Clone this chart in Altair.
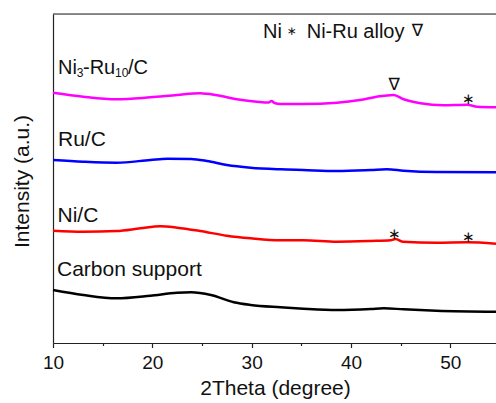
import altair as alt
import pandas as pd

# 2Theta positions and intensities (a.u.)
ni3ru10_x = [10, 13.05, 16.4, 19.8, 22.5, 24.8, 26.5, 28.5, 30.5, 31.7, 32.0, 32.3, 32.9, 35.2, 38.6, 40.9, 42.6, 44.3, 45.3, 47, 49.3, 51.7, 52.7, 54.6]
ni3ru10_y = [250.3, 246.3, 243.7, 245.7, 248, 249.7, 247.7, 243.7, 241.3, 240.4, 242.0, 240, 239, 239, 240.3, 243, 246.3, 248, 243.7, 239.7, 237.7, 238.2, 236.3, 235.7]

ruc_x = [10, 13.05, 16.4, 19.8, 21.5, 23.9, 25.5, 27.5, 29.9, 32.9, 35.2, 38.6, 42, 43.6, 45.3, 48.6, 54.6]
ruc_y = [183, 181.3, 180.3, 183, 184.3, 184, 182, 178, 175.3, 173.7, 173, 172, 173, 173.7, 172.3, 171, 170.7]

nic_x = [10, 13.05, 16.4, 18.8, 20.8, 22.5, 24.8, 27.5, 29.9, 32.9, 35.2, 38.6, 42, 44.0, 44.5, 45.2, 48.6, 51.7, 54.6]
nic_y = [112.3, 111.3, 112, 114.7, 116.7, 115.3, 112, 107.3, 104.7, 102.7, 102.7, 101.3, 102, 102.7, 104, 101.3, 100.3, 100.7, 99.3]

carbon_x = [10, 13.05, 16.4, 19.8, 22.5, 23.9, 25.9, 28.2, 29.9, 32.9, 35.2, 38.6, 42, 43.3, 45.3, 48.6, 54.6]
carbon_y = [53, 48, 44.7, 47.3, 50.3, 50.7, 48, 40.7, 38, 35.7, 34.3, 33, 34, 34.7, 33.7, 32.3, 31.3]

series_names = ["Ni3-Ru10/C", "Ru/C", "Ni/C", "Carbon support"]
series_colors = ["#FF00FF", "#0000FF", "#FF0000", "#000000"]

# Curve labels (text pieces for subscripts)
label_text = ["Ni", "3", "-Ru", "10", "/C", "Ru/C", "Ni/C", "Carbon support"]
label_x = [10.5, 12.38, 13.02, 16.24, 17.55, 10.5, 10.45, 10.4]
label_y = [269, 265.7, 269, 265.7, 269, 197.3, 121.3, 67]
label_size = [20, 12, 20, 12, 20, 21, 21, 21]

# Peak markers
mark_text = ["∇", "∗", "∗", "∗"]
mark_x = [44.35, 51.8, 44.35, 51.8]
mark_y = [258, 243.7, 108.7, 106.3]
mark_size = [17, 15, 15, 15]

# Legend pieces at top
legend_text = ["Ni", "∗", "Ni-Ru alloy", "∇"]
legend_x = [31.14, 34.01, 35.54, 46.68]
legend_y = [305.3, 312.0, 305.3, 312.2]
legend_size = [20, 12, 20, 17]
legend_align = ["left", "center", "left", "center"]
legend_base = ["alphabetic", "middle", "alphabetic", "middle"]
legend_font = ["Liberation Sans", "DejaVu Sans", "Liberation Sans", "DejaVu Sans"]

major_ticks = [10, 20, 30, 40, 50]
minor_ticks = [15, 25, 35, 45]

rows = []
for name, xs, ys in [
    (series_names[0], ni3ru10_x, ni3ru10_y),
    (series_names[1], ruc_x, ruc_y),
    (series_names[2], nic_x, nic_y),
    (series_names[3], carbon_x, carbon_y),
]:
    for a, b in zip(xs, ys):
        rows.append({"series": name, "x": a, "y": b})
df = pd.DataFrame(rows)

xscale = alt.Scale(domain=[10, 54.6], nice=False, zero=False)
yscale = alt.Scale(domain=[0, 329], nice=False, zero=False)
FONT = "Liberation Sans"
AX = "#222222"

lines = alt.Chart(df).mark_line(strokeWidth=2.5, interpolate="monotone").encode(
    x=alt.X("x:Q", scale=xscale,
            axis=alt.Axis(values=major_ticks, title="2Theta (degree)", tickSize=4.5,
                          labelPadding=6, labelFontSize=19, labelFont=FONT, labelFlush=False,
                          titleFont=FONT, titleFontSize=21, titleFontWeight="normal",
                          titleX=222, titleY=51, titleBaseline="alphabetic",
                          domainColor=AX, tickColor=AX, labelColor="#111",
                          titleColor="#111", grid=False, domainWidth=1.2, tickWidth=1.2)),
    y=alt.Y("y:Q", scale=yscale,
            axis=alt.Axis(ticks=False, labels=False, grid=False, title="Intensity (a.u.)",
                          titleFont=FONT, titleFontSize=21, titleFontWeight="normal",
                          titleX=-31, titleY=167, titleBaseline="middle", titleAngle=-90,
                          domainColor=AX, titleColor="#111", domainWidth=1.2)),
    color=alt.Color("series:N", scale=alt.Scale(domain=series_names, range=series_colors), legend=None),
    detail="series:N",
)

top_border = alt.Chart(pd.DataFrame({"v": [0]})).mark_rule(color=AX, strokeWidth=1.2).encode(
    x=alt.value(0), x2=alt.value(443), y=alt.value(0)
)

ldf = pd.DataFrame({"t": label_text, "x": label_x, "y": label_y, "s": label_size})
labels = alt.Chart(ldf).mark_text(align="left", baseline="alphabetic", font=FONT, color="#111").encode(
    x=alt.X("x:Q", scale=xscale, axis=alt.Axis(values=minor_ticks, tickSize=2.5, labels=False,
                                              domain=False, title=None, orient="bottom", grid=False,
                                              tickColor=AX, tickWidth=1.2)),
    y=alt.Y("y:Q", scale=yscale, axis=None),
    text="t:N",
    size=alt.Size("s:Q", scale=None, legend=None),
)

mdf = pd.DataFrame({"t": mark_text, "x": mark_x, "y": mark_y, "s": mark_size})
markers = alt.Chart(mdf).mark_text(align="center", baseline="middle", font="DejaVu Sans", color="#111").encode(
    x=alt.X("x:Q", scale=xscale, axis=None),
    y=alt.Y("y:Q", scale=yscale, axis=None),
    text="t:N",
    size=alt.Size("s:Q", scale=None, legend=None),
)

legend_layers = []
for t, lx, ly, s, al, bl, fnt in zip(legend_text, legend_x, legend_y, legend_size,
                                     legend_align, legend_base, legend_font):
    gdf = pd.DataFrame({"t": [t], "x": [lx], "y": [ly]})
    legend_layers.append(
        alt.Chart(gdf).mark_text(align=al, baseline=bl, font=fnt, fontSize=s, color="#111").encode(
            x=alt.X("x:Q", scale=xscale, axis=None),
            y=alt.Y("y:Q", scale=yscale, axis=None),
            text="t:N",
        )
    )

chart = alt.layer(lines, top_border, labels, markers, *legend_layers).resolve_axis(
    x="independent", y="independent"
).properties(
    width=443, height=329,
    autosize=alt.AutoSizeParams(type="none"),
    padding={"left": 53, "top": 14, "right": 0, "bottom": 60},
).configure_view(stroke=None).configure(background="white")

chart.save("out.html", embed_options={"renderer": "svg", "actions": False})
